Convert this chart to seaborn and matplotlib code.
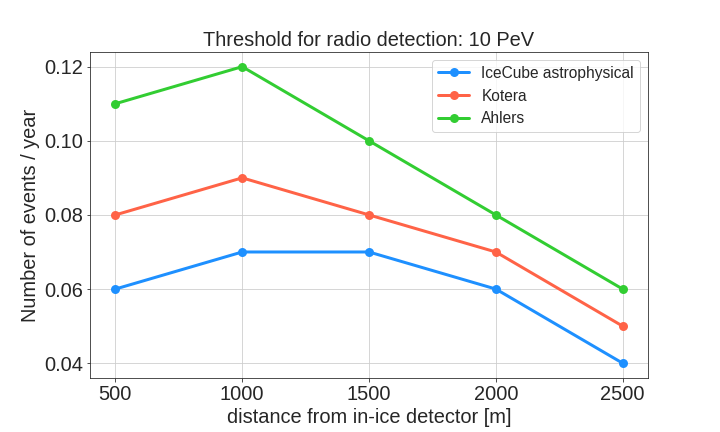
import matplotlib
matplotlib.use("Agg")
import matplotlib.pyplot as plt
import seaborn as sns
import pandas as pd

# distance from in-ice detector [m]
distances = [500, 1000, 1500, 2000, 2500]
icecube = [0.06, 0.07, 0.07, 0.06, 0.04]
kotera = [0.08, 0.09, 0.08, 0.07, 0.05]
ahlers = [0.11, 0.12, 0.10, 0.08, 0.06]

models = ["IceCube astrophysical", "Kotera", "Ahlers"]
colors = ["#1E90FF", "#FF6347", "#32CD32"]

df = pd.DataFrame({
    "distance": distances * 3,
    "events": icecube + kotera + ahlers,
    "model": [m for m in models for _ in distances],
})

sns.set_style("ticks", {"axes.grid": True})
plt.rcParams["font.family"] = ["Liberation Sans", "DejaVu Sans"]

fig, ax = plt.subplots(figsize=(10, 6), dpi=72)
fig.subplots_adjust(left=0.125, right=0.9, top=0.88, bottom=0.125)

sns.lineplot(data=df, x="distance", y="events", hue="model", palette=colors,
             marker="o", markersize=9, markeredgewidth=0, linewidth=3, ax=ax)

ax.set_xticks(distances)
ax.set_yticks([0.04, 0.06, 0.08, 0.10, 0.12])
ax.tick_params(labelsize=20)
ax.set_xlabel("distance from in-ice detector [m]", fontsize=20)
ax.set_ylabel("Number of events / year", fontsize=20)
ax.set_title("Threshold for radio detection: 10 PeV", fontsize=20)
ax.legend(loc="upper right", fontsize=15.5, title=None)

plt.savefig("out.png", dpi=72)
